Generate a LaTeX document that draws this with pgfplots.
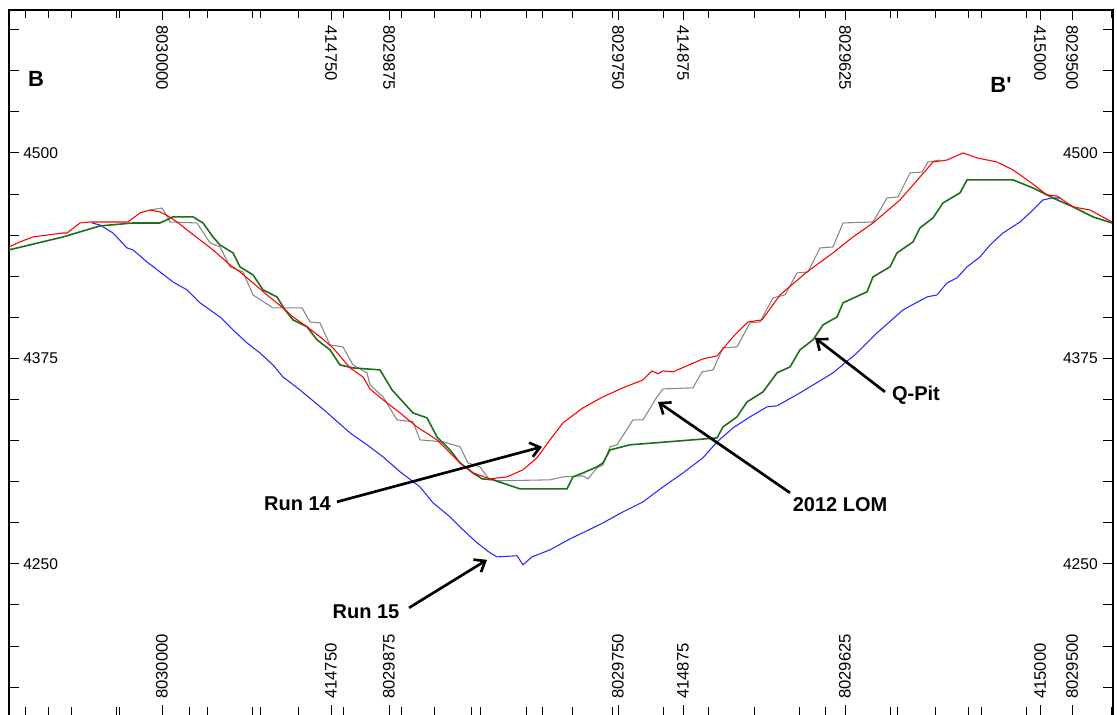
\documentclass[border=0pt]{standalone}
\usepackage{fontspec}
\setmainfont{Liberation Sans}
\usepackage{pgfplots}
\pgfplotsset{compat=1.18}
\usetikzlibrary{arrows.meta}

\definecolor{runA}{RGB}{255,0,0}
\definecolor{runB}{RGB}{40,40,255}
\definecolor{qpit}{RGB}{30,110,30}
\definecolor{lom}{RGB}{135,135,135}

% rotated northing / easting label, once above and once below the section
\newcommand\tlab[2]{%
  \node[rotate=-90, anchor=west, inner sep=0pt, font=\fontsize{12.5}{14}\selectfont] at (axis cs:#1,4577.9) {#2};
  \node[rotate=90, anchor=west, inner sep=0pt, font=\fontsize{12.5}{14}\selectfont] at (axis cs:#1,4167.6) {#2};
}

\begin{document}
\begin{tikzpicture}
\begin{axis}[
  name=sec,
  scale only axis,
  width=828pt, height=528.75pt,
  xmin=0, xmax=1104, ymin=4158, ymax=4587,
  clip=false,
  axis line style={draw=none},
  tick align=inside,
  xtick={153,322,380,609,674,836,1031,1063},
  minor xtick={16.8,62.2,107.6,198.4,243.8,289.2,334.6,425.8,471.6,517.4,563.2,654.4,699.8,745.2,790.6,881.4,926.8,972.2,1017.6,
               39.6,110.2,180.8,251.4,392.4,462.8,533.2,603.6,745.4,816.8,888.2,959.6,1102.4},
  ytick={4175,4200,...,4575},
  xticklabels=\empty, yticklabels=\empty,
  major tick length=7.5pt, minor tick length=6pt,
  every tick/.style={black, line width=0.7pt},
]
% section frame (open at the bottom)
\draw[line width=1.1pt] (rel axis cs:0,0) -- (rel axis cs:0,1) -- (rel axis cs:1,1) -- (rel axis cs:1,0);

% Run 15
\addplot[runB, line width=0.8pt] coordinates {
(83,4457.4)(91,4456.2)(104,4451.3)(118,4442.2)(124,4441.0)(138,4433.7)(151,4427.6)(164,4421.5)(178,4416.7)(191,4408.8)(211,4400.2)(224,4392.3)(238,4384.4)(251,4378.3)(264,4371.0)(274,4363.7)(291,4355.8)(316,4343.1)(341,4329.7)(358,4322.4)(374,4315.1)(391,4306.0)(411,4296.8)(424,4287.1)(441,4278.6)(454,4270.7)(468,4262.8)(481,4256.7)(488,4254.2)(508,4254.9)(514,4249.4)(523,4254.2)(541,4258.5)(561,4265.2)(574,4268.9)(594,4274.9)(614,4281.6)(634,4287.7)(654,4296.8)(674,4305.3)(694,4314.5)(708,4324.2)(724,4332.7)(741,4339.4)(758,4345.5)(768,4346.1)(791,4354.0)(824,4366.2)(848,4378.3)(868,4390.5)(894,4404.5)(918,4412.4)(928,4413.6)(938,4420.9)(948,4424.0)(958,4430.7)(971,4436.7)(981,4444.0)(994,4451.3)(1011,4458.0)(1024,4465.3)(1034,4471.4)(1043,4472.6)(1051,4472.6)
};

% 2012 LOM
\addplot[lom, line width=0.8pt] coordinates {
(141,4465.3)(153,4466.5)(159,4460.5)(161,4458.0)(188,4457.4)(201,4445.3)(211,4442.8)(221,4430.7)(234,4427.6)(244,4413.6)(264,4405.7)(293,4405.7)(301,4397.2)(311,4396.6)(321,4383.2)(334,4382.0)(344,4371.0)(358,4366.2)(361,4358.9)(374,4351.6)(388,4337.6)(404,4336.4)(411,4325.4)(434,4324.2)(451,4321.2)(459,4311.4)(471,4309.0)(479,4302.3)(488,4300.5)(541,4301.1)(554,4302.9)(574,4303.5)(579,4301.7)(588,4308.4)(594,4310.2)(601,4321.2)(608,4322.4)(624,4337.6)(634,4337.6)(648,4351.6)(654,4356.4)(684,4357.1)(693,4366.8)(704,4368.0)(714,4381.4)(728,4382.0)(741,4396.6)(751,4397.2)(764,4411.8)(776,4413.6)(788,4427.0)(799,4427.6)(811,4442.2)(824,4442.8)(834,4457.4)(864,4458.0)(878,4472.6)(889,4473.2)(901,4487.8)(913,4488.4)(919,4494.5)(931,4495.7)
};

% Q-Pit
\addplot[qpit, line width=1.2pt] coordinates {
(0,4441.0)(54,4448.9)(91,4455.6)(124,4457.4)(151,4457.4)(164,4461.1)(184,4461.1)(194,4457.4)(204,4448.9)(211,4444.0)(224,4439.2)(231,4430.7)(244,4425.8)(254,4416.7)(268,4412.4)(276,4404.5)(284,4398.4)(298,4394.2)(308,4386.3)(321,4380.2)(331,4371.0)(344,4369.2)(371,4368.0)(383,4355.8)(404,4341.8)(418,4338.8)(428,4327.2)(441,4319.3)(451,4311.4)(464,4305.3)(473,4301.7)(484,4301.1)(511,4295.6)(558,4295.6)(564,4302.9)(574,4305.3)(588,4309.0)(594,4311.4)(601,4319.3)(621,4322.4)(708,4326.6)(714,4333.3)(728,4339.4)(738,4348.5)(754,4354.6)(768,4366.2)(781,4369.8)(791,4380.2)(804,4386.3)(814,4395.4)(828,4400.2)(834,4408.8)(858,4415.5)(864,4424.6)(881,4430.7)(888,4439.2)(904,4445.9)(911,4454.4)(924,4460.5)(934,4469.6)(951,4475.7)(958,4483.6)(1004,4483.6)(1024,4478.7)(1044,4472.6)(1064,4467.2)(1084,4461.1)(1103,4457.4)
};

% Run 14
\addplot[runA, line width=0.8pt] coordinates {
(0,4442.8)(11,4445.9)(24,4448.9)(54,4451.3)(58,4451.3)(71,4457.4)(81,4458.0)(119,4458.0)(131,4463.5)(141,4465.3)(151,4464.1)(159,4461.7)(168,4458.0)(178,4453.2)(191,4447.1)(204,4441.0)(221,4431.9)(231,4427.6)(244,4420.9)(258,4413.6)(274,4405.7)(284,4400.2)(298,4394.2)(311,4388.1)(324,4381.4)(341,4369.2)(354,4363.7)(361,4356.4)(374,4349.8)(391,4341.8)(408,4333.3)(428,4325.4)(441,4317.5)(451,4311.4)(464,4305.3)(481,4301.7)(498,4302.9)(514,4307.2)(528,4314.5)(541,4325.4)(554,4335.8)(574,4344.9)(594,4351.6)(614,4357.1)(634,4361.9)(643,4367.4)(649,4365.6)(654,4367.4)(664,4366.8)(694,4374.7)(708,4376.5)(724,4388.1)(739,4397.2)(753,4398.4)(771,4413.6)(798,4427.6)(824,4439.2)(844,4448.9)(864,4457.4)(891,4471.4)(911,4485.4)(924,4494.5)(938,4495.7)(954,4500.0)(968,4497.0)(988,4494.5)(1004,4489.7)(1021,4482.4)(1038,4474.5)(1048,4473.8)(1064,4467.2)(1081,4465.3)(1103,4458.0)
};

% elevation labels inside the frame
\pgfplotsinvokeforeach{4250,4375,4500}{
  \node[anchor=west, inner sep=0pt, font=\fontsize{11.7}{13}\selectfont] at (axis cs:14,#1) {#1};
  \node[anchor=east, inner sep=0pt, font=\fontsize{11.7}{13}\selectfont] at (axis cs:1089,#1) {#1};
}

% northing / easting labels
\tlab{153}{8030000}
\tlab{322}{414750}
\tlab{380}{8029875}
\tlab{609}{8029750}
\tlab{674}{414875}
\tlab{836}{8029625}
\tlab{1031}{415000}
\tlab{1063}{8029500}

% section end labels
\node[font=\bfseries\fontsize{16.5}{18}\selectfont] at (axis cs:27,4545.0) {B};
\node[font=\bfseries\fontsize{16.5}{18}\selectfont] at (axis cs:992,4541.4) {B\textquotesingle};

% annotations
\begin{scope}[line width=2pt, -{Straight Barb[length=7pt,width=11pt]}]
\draw (axis cs:328,4287.7) -- (axis cs:533,4321.2);
\draw (axis cs:400,4223.2) -- (axis cs:478,4252.4);
\draw (axis cs:781,4293.2) -- (axis cs:649,4348.5);
\draw (axis cs:876,4354.6) -- (axis cs:806,4387.5);
\end{scope}
\node[font=\bfseries\fontsize{15}{17}\selectfont] at (axis cs:288.5,4286.5) {Run 14};
\node[font=\bfseries\fontsize{15}{17}\selectfont] at (axis cs:357,4220.8) {Run 15};
\node[font=\bfseries\fontsize{15}{17}\selectfont] at (axis cs:831,4286.2) {2012 LOM};
\node[font=\bfseries\fontsize{15}{17}\selectfont] at (axis cs:907,4352.4) {Q-Pit};
\end{axis}
\pgfresetboundingbox
\path[use as bounding box] ([xshift=-6.75pt]sec.south west) rectangle ([xshift=3pt,yshift=7.5pt]sec.north east);
\end{tikzpicture}
\end{document}
